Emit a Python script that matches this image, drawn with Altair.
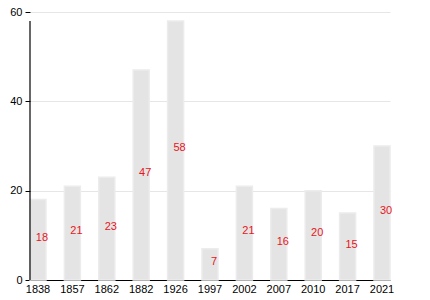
import altair as alt
import pandas as pd

years = ["1838", "1857", "1862", "1882", "1926", "1997", "2002", "2007", "2010", "2017", "2021"]
values = [18, 21, 23, 47, 58, 7, 21, 16, 20, 15, 30]

df = pd.DataFrame({"year": years, "value": values})
df["half"] = df["value"] / 2

FONT = "Liberation Sans"

x = alt.X("year:N", sort=years, title=None,
          scale=alt.Scale(paddingInner=0.535, paddingOuter=0),
          axis=alt.Axis(labelAngle=0, ticks=False, grid=False, domainColor="black", domainWidth=1.2,
                        labelFont=FONT, labelFontSize=11, labelColor="black", labelPadding=3))

bars = alt.Chart(df).mark_bar(color="#e4e4e4", stroke="#ececec", strokeWidth=1.5).encode(
    x=x,
    y=alt.Y("value:Q", title=None, scale=alt.Scale(domain=[0, 60]),
            axis=alt.Axis(values=[0, 20, 40, 60], domain=False, grid=True, tickColor="black", tickSize=5,
                          gridColor="#e6e6e6", labelFont=FONT, labelFontSize=11,
                          labelColor="black", labelPadding=3)),
)

labels = alt.Chart(df).mark_text(color="#e8141c", font=FONT, fontSize=11, dx=4, dy=-2, baseline="middle").encode(
    x=alt.X("year:N", sort=years),
    y=alt.Y("half:Q"),
    text="value:Q",
)

yline = alt.Chart(df).transform_aggregate(
    m="max(value)"
).transform_calculate(
    zero="0"
).mark_rule(color="black", strokeWidth=1.2).encode(
    x=alt.value(0),
    y=alt.Y("zero:Q"),
    y2=alt.Y2("m:Q"),
)

chart = (bars + labels + yline).properties(
    width=360, height=268,
    autosize=alt.AutoSizeParams(type="none"),
    padding={"left": 30, "top": 12, "right": 40, "bottom": 20},
).configure_view(stroke=None)

chart.save("out.html", embed_options={"renderer": "svg", "actions": False})
